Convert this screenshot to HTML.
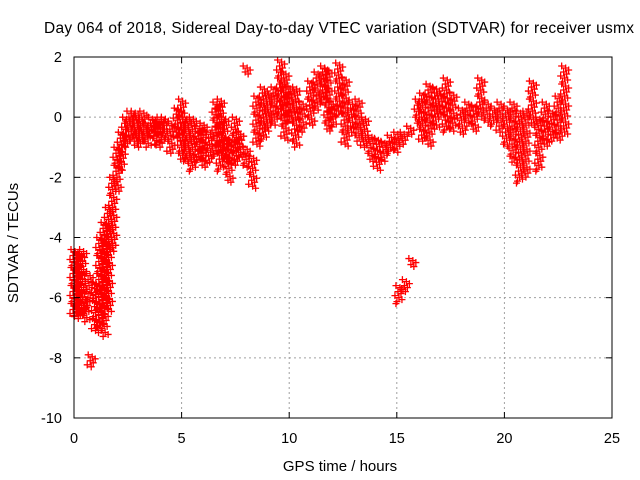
<!DOCTYPE html>
<html><head><meta charset="utf-8"><style>
body{margin:0;background:#fff}
svg{display:block;font-family:"Liberation Sans",sans-serif}
</style></head><body>
<svg id="chart" width="640" height="480">
<rect width="640" height="480" fill="#fff"/>
<text x="339" y="33" text-anchor="middle" font-size="15.5" textLength="590">Day 064 of 2018, Sidereal Day-to-day VTEC variation (SDTVAR) for receiver usmx</text>
<text x="18" y="243" text-anchor="middle" font-size="15" transform="rotate(-90 18 243)">SDTVAR / TECUs</text>
<text x="340" y="471" text-anchor="middle" font-size="15">GPS time / hours</text>
<g id="grid"></g><g id="marks"></g><g id="axes"></g>
</svg>
<script>
const xTicks=[0,5,10,15,20,25];
const yTicks=[2,0,-2,-4,-6,-8,-10];
const times=[0,0.2,0.4,0.55,0.7,0.8,1.0,1.2,1.4,1.6,1.8,2.0,2.2,2.4,2.6,2.8,3.0,3.2,3.4,3.6,3.8,4.0,4.2,4.5,4.8,5.0,5.2,5.5,5.8,6.0,6.3,6.6,6.8,7.0,7.2,7.5,7.7,8.0,8.0,8.3,8.5,8.8,9.0,9.3,9.6,9.8,10.0,10.3,10.6,11.0,11.3,11.6,11.8,12.0,12.3,12.6,12.9,13.2,13.5,13.8,14.1,14.4,14.7,15.0,15.1,15.3,15.4,15.6,15.7,16.0,16.2,16.5,16.8,17.0,17.3,17.6,18.0,18.3,18.6,18.9,19.2,19.5,19.8,20.1,20.4,20.7,21.0,21.3,21.6,21.9,22.2,22.5,22.8];
const highs=[-4.4,-4.5,-4.4,-6.0,-5.2,-7.9,-5.5,-4.0,-3.5,-3.0,-2.0,-1.0,-0.5,0.0,0.2,0.2,0.0,0.2,-0.2,0.0,-0.1,0.0,0.0,-0.2,0.3,0.6,0.0,0.0,-0.3,-0.2,-0.5,0.5,0.6,0.0,-0.7,0.0,-0.5,1.7,-1.0,-1.3,0.7,1.0,0.8,1.0,1.9,1.5,1.0,1.0,0.5,1.2,1.5,1.7,1.6,0.5,1.8,1.3,0.5,0.6,0.0,-0.6,-0.7,-0.8,-0.6,-0.5,-5.6,-0.5,-5.4,-0.3,-4.7,0.6,0.8,1.1,1.0,0.8,1.3,0.8,0.3,0.5,0.4,1.3,0.5,0.3,0.5,0.3,0.5,0.2,0.2,1.2,0.0,0.5,0.2,0.7,1.7];
const lows=[-6.6,-6.7,-6.6,-6.8,-6.0,-8.3,-7.2,-7.0,-7.3,-6.5,-4.5,-2.5,-1.8,-1.0,-0.8,-0.9,-1.0,-0.8,-1.0,-0.6,-0.9,-1.0,-0.7,-1.2,-0.8,-1.5,-1.5,-1.8,-1.5,-1.7,-1.5,-1.3,-1.8,-1.5,-2.2,-1.6,-1.3,1.4,-1.7,-2.4,-1.0,-0.8,-0.5,-0.3,0.0,-0.8,-0.2,-1.0,-0.5,-0.3,0.2,0.5,-0.5,-0.3,0.0,-1.0,-0.5,-0.8,-1.0,-1.5,-1.8,-1.5,-1.2,-1.2,-6.2,-0.9,-5.8,-0.6,-5.0,-0.3,-0.8,-1.0,-0.4,0.0,-0.5,-0.5,-0.6,-0.3,-0.5,0.0,-0.2,-0.3,-0.5,-1.0,-1.5,-2.2,-2.0,-0.3,-1.8,-1.0,-0.8,-0.8,-0.6];
const X0=74,X1=612,Y0=418,Y1=57;
const xs=v=>X0+(v-0)/(25-0)*(X1-X0);
const ys=v=>Y0-(v+10)/12*(Y0-Y1);
const NS="http://www.w3.org/2000/svg";
function mk(tag,attrs,parent){const e=document.createElementNS(NS,tag);for(const k in attrs)e.setAttribute(k,attrs[k]);parent.appendChild(e);return e;}
const grid=document.getElementById('grid'),axes=document.getElementById('axes'),marks=document.getElementById('marks');
xTicks.forEach(t=>{
 if(t>0&&t<25){const g=mk('line',{x1:xs(t),x2:xs(t),y1:Y1,y2:Y0,stroke:'#a0a0a0','stroke-dasharray':'2,3'},grid);
 
 }
 mk('line',{x1:xs(t),x2:xs(t),y1:Y0,y2:Y0-6,stroke:'#000'},axes);
 mk('line',{x1:xs(t),x2:xs(t),y1:Y1,y2:Y1+6,stroke:'#000'},axes);
 const l=mk('text',{x:xs(t),y:Y0+25,'text-anchor':'middle','font-size':'14.5'},axes);l.textContent=t;
 
 
});
yTicks.forEach(t=>{
 if(t>-10&&t<2){const g=mk('line',{x1:X0,x2:X1,y1:ys(t),y2:ys(t),stroke:'#a0a0a0','stroke-dasharray':'2,3'},grid);
 
 }
 mk('line',{x1:X0,x2:X0+6,y1:ys(t),y2:ys(t),stroke:'#000'},axes);
 mk('line',{x1:X1,x2:X1-6,y1:ys(t),y2:ys(t),stroke:'#000'},axes);
 const l=mk('text',{x:X0-12,y:ys(t)+5,'text-anchor':'end','font-size':'14.5'},axes);l.textContent=t;
 
 
});
const fr=mk('rect',{x:X0,y:Y1,width:X1-X0,height:Y0-Y1,fill:'none',stroke:'#000'},axes);


let d='';
times.forEach((t,i)=>{
 const x=xs(t),ya=ys(highs[i]),yb=ys(lows[i]);
 let k=0;
 for(let y=ya;y<=yb+0.1;y+=2){
  const dx=[-3,1,4,-1,2,-4,0,3,-2][k%9];k++;
  const px=x+dx,py=y;
  d+=`M${px-3.5} ${py}h7M${px} ${py-3.5}v7`;
 }
});
const p=mk('path',{d:d,stroke:'#f00','stroke-width':1.3,fill:'none'},marks);


</script>
</body></html>
